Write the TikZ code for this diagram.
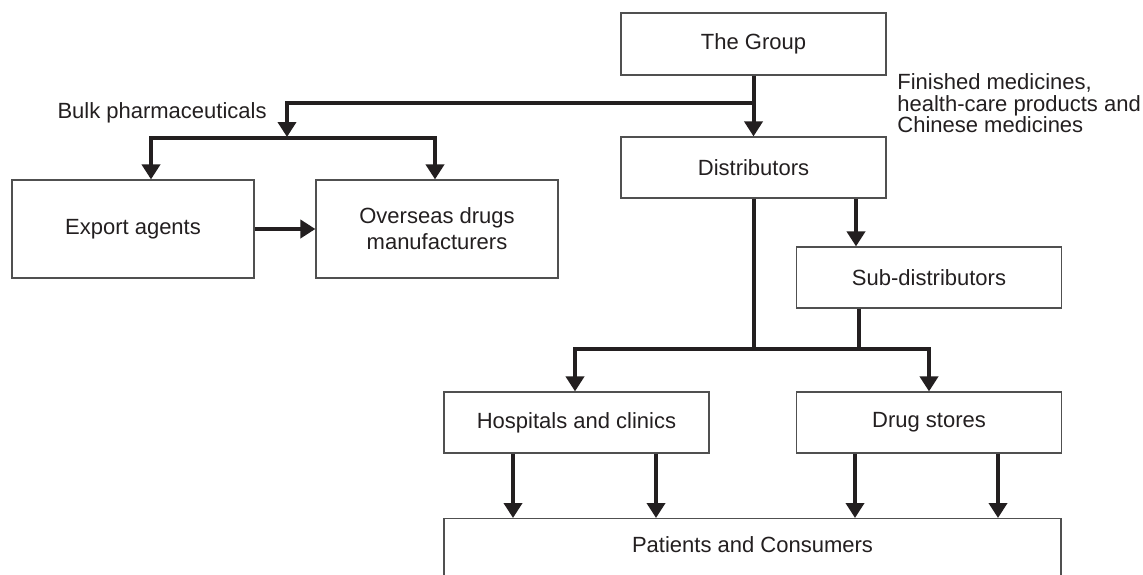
\documentclass[tikz,border=0pt]{standalone}
\usepackage{fontspec}
\setmainfont{Liberation Sans}
\usetikzlibrary{arrows.meta}
\definecolor{ink}{HTML}{231F20}
\definecolor{edge}{HTML}{505050}
\begin{document}
\begin{tikzpicture}[x=0.5pt,y=-0.5pt,
  lab/.style={font=\fontsize{11}{13}\selectfont, text=ink},
  box/.style={draw=edge, line width=0.6pt, fill=white, lab, align=center, inner sep=0pt},
  wbox/.style={box, minimum width=132.5pt, minimum height=30.5pt},
  ln/.style={draw=ink, line width=2pt},
  arr/.style={ln, -{Triangle[length=7.5pt,width=9pt]}}]
\clip (0,0) rectangle (1143,574);
\fill[white] (0,0) rectangle (1143,574);
% boxes
\node[wbox, minimum height=31pt] (grp) at (753.5,44) {The Group};
\node[wbox] (dist) at (753.5,167.5) {Distributors};
\node[box, minimum width=121pt, minimum height=49pt] (exp) at (133,229) {Export agents};
\node[box, minimum width=121pt, minimum height=49pt] (ovs) at (437,229) {Overseas drugs\\manufacturers};
\node[wbox] (sub) at (929,277.5) {Sub-distributors};
\node[wbox] (hos) at (576.5,422.5) {Hospitals and clinics};
\node[wbox] (drg) at (929,422.5) {Drug stores};
\node[box, anchor=north, minimum width=308.5pt, minimum height=60pt,
      label={[lab, anchor=center, yshift=-13.5pt]north:Patients and Consumers}] (pat) at (752.5,518) {};
% labels
\node[lab, anchor=east, inner sep=0pt] (bulk) at (267,113) {Bulk pharmaceuticals};
\node[lab, anchor=west, inner sep=0pt, align=left, font=\fontsize{11}{10.8}\selectfont] (fin) at (897,103.5)
  {Finished medicines,\\health-care products and\\Chinese medicines};
% junction coordinates
\coordinate (j1) at (753.5,103);
\coordinate (j2) at (287,103);
\coordinate (j3) at (287,137);
\coordinate (h1) at (151,138);
\coordinate (h2) at (435,138);
\coordinate (k1) at (753.5,349);
\coordinate (k2) at (575,349);
\coordinate (k3) at (929,349);
\coordinate (sv) at (859,349);
\coordinate (ds) at (856,0);
% connectors
\draw[arr] (grp.south) -- (dist.north);
\draw[arr] (j1) -- (j2) -- (j3);
\draw[arr, line cap=rect] (h2) -- (h1) -- (h1 |- exp.north);
\draw[arr] (h2) -- (h2 |- ovs.north);
\draw[arr] (exp.east) -- (ovs.west);
\draw[arr] (dist.south -| ds) -- (sub.north -| ds);
\draw[ln] (dist.south) -- (k1);
\draw[ln] (sub.south -| sv) -- (sv);
\draw[arr, line cap=rect] (k3) -- (k2) -- (k2 |- hos.north);
\draw[arr] (k3) -- (k3 |- drg.north);
\foreach \x/\s in {513/hos,656/hos,855/drg,998/drg}{
  \coordinate (c\x) at (\x,0);
  \draw[arr] (\s.south -| c\x) -- (pat.north -| c\x);
}
\end{tikzpicture}
\end{document}
